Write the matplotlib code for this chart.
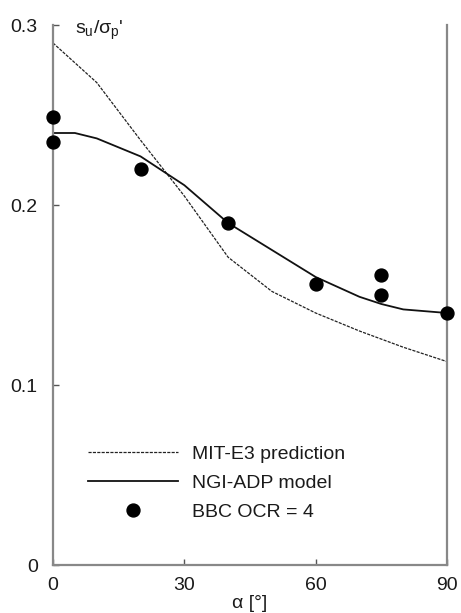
import matplotlib
matplotlib.use("Agg")
import matplotlib.pyplot as plt

plt.rcParams['font.family'] = ['Liberation Sans', 'DejaVu Sans']
plt.rcParams['mathtext.fontset'] = 'custom'
plt.rcParams['mathtext.rm'] = 'Liberation Sans'
plt.rcParams['mathtext.it'] = 'Liberation Sans'

# MIT-E3 prediction
mit_alpha = [0, 10, 20, 30, 40, 50, 60, 70, 80, 90]
mit_su = [0.290, 0.268, 0.236, 0.205, 0.171, 0.152, 0.140, 0.130, 0.121, 0.113]

# NGI-ADP model
ngi_alpha = [0, 5, 10, 20, 30, 40, 50, 60, 70, 75, 80, 85, 90]
ngi_su = [0.240, 0.240, 0.237, 0.227, 0.211, 0.190, 0.175, 0.160, 0.149, 0.145, 0.142, 0.141, 0.140]

# BBC OCR = 4 data
bbc_alpha = [0, 0, 20, 40, 60, 75, 75, 90]
bbc_su = [0.249, 0.235, 0.220, 0.190, 0.156, 0.161, 0.150, 0.140]

xticks = [0, 30, 60, 90]
yticks = [0, 0.1, 0.2, 0.3]
yticklabels = ['0', '0.1', '0.2', '0.3']

FS = 14
TXT = '#1a1a1a'

fig = plt.figure(figsize=(4.61, 6.13), dpi=100)
ax = fig.add_axes([53/461, 1 - 565/613, 394/461, 540/613])

ax.plot(mit_alpha, mit_su, color='#222222', lw=0.9, ls=(0, (2.5, 1)), label='MIT-E3 prediction', zorder=2)
ax.plot(ngi_alpha, ngi_su, color='#111111', lw=1.3, ls='-', label='NGI-ADP model', zorder=2)
ax.plot(bbc_alpha, bbc_su, 'o', color='black', ms=9.3, ls='none', label='BBC OCR = 4', zorder=3, clip_on=False)

ax.set_xlim(0, 90)
ax.set_ylim(0, 0.3)
ax.set_xticks(xticks)
ax.set_xticklabels([str(t) for t in xticks])
ax.set_yticks(yticks)
ax.set_yticklabels(yticklabels)

ax.spines['top'].set_visible(False)
for s in ['left', 'right', 'bottom']:
    ax.spines[s].set_color('#888888')
    ax.spines[s].set_linewidth(1.6)

ax.tick_params(axis='both', direction='in', length=4, width=1, color='#555555',
               labelsize=FS, colors=TXT)
ax.tick_params(axis='x', pad=9)
ax.tick_params(axis='y', pad=11)

ax.text(5.0, 0.297, r"s$_\mathregular{u}$/σ$_\mathregular{p}$'", fontsize=FS,
        va='center', ha='left', color=TXT)
ax.text(45, -0.0215, 'α [°]', fontsize=FS, ha='center', va='center', color=TXT,
        clip_on=False)

leg = ax.legend(loc='upper left', bbox_to_anchor=(0.068, 0.236), frameon=False,
                fontsize=FS, handlelength=4.64, handletextpad=0.72, labelspacing=0.58,
                borderaxespad=0)
for t in leg.get_texts():
    t.set_color(TXT)

fig.savefig('out.png', dpi=100)
